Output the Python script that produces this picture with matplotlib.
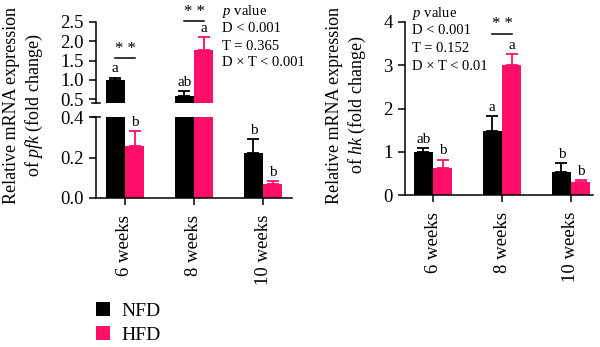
import numpy as np
import matplotlib
matplotlib.use('Agg')
import matplotlib.pyplot as plt
from matplotlib.patches import Patch
import matplotlib.transforms as mtransforms

plt.rcParams['font.family'] = ['Liberation Serif', 'DejaVu Serif']
plt.rcParams['mathtext.fontset'] = 'custom'
plt.rcParams['mathtext.rm'] = 'Liberation Serif'
plt.rcParams['mathtext.it'] = 'Liberation Serif:italic'

weeks = ['6 weeks', '8 weeks', '10 weeks']
groups = ['NFD', 'HFD']
colors = ['#000000', '#FF0F68']

# pfk (left, broken axis)
pfk_nfd = [1.0, 0.59, 0.223]
pfk_nfd_err = [0.06, 0.13, 0.066]
pfk_hfd = [0.258, 1.78, 0.069]
pfk_hfd_err = [0.073, 0.34, 0.016]
pfk_nfd_letters = ['a', 'ab', 'b']
pfk_hfd_letters = ['b', 'a', 'b']
pfk_stats = ['$p$ value', 'D < 0.001', 'T = 0.365', 'D × T < 0.001']

# hk (right)
hk_nfd = [1.0, 1.48, 0.54]
hk_nfd_err = [0.08, 0.35, 0.19]
hk_hfd = [0.62, 3.0, 0.29]
hk_hfd_err = [0.2, 0.25, 0.06]
hk_nfd_letters = ['ab', 'a', 'b']
hk_hfd_letters = ['b', 'a', 'b']
hk_stats = ['$p$ value', 'D < 0.001', 'T = 0.152', 'D × T < 0.01']

W = 600
H = 347
fig = plt.figure(figsize=(6, 3.47), dpi=100)

x = np.arange(len(weeks))
bw = 0.28


def px(l, t, r, b):
    return [l / W, 1 - b / H, (r - l) / W, (b - t) / H]


def draw_bars(ax, nfd, nfd_err, hfd, hfd_err):
    for vals, errs, off, c in [(nfd, nfd_err, -bw / 2, colors[0]),
                               (hfd, hfd_err, bw / 2, colors[1])]:
        ax.bar(x + off, vals, bw, color=c, edgecolor='none')
        ax.errorbar(x + off, vals, yerr=[np.zeros(len(vals)), errs], fmt='none',
                    ecolor=c, elinewidth=1.3, capsize=4.5, capthick=1.3)


def letters(ax, vals, errs, labs, off):
    for xi, v, e, lab in zip(x, vals, errs, labs):
        ax.annotate(lab, (xi + off, v + e), xytext=(0, 1.5), textcoords='offset points',
                    ha='center', va='bottom', fontsize=11, annotation_clip=False)


def style(ax):
    for s in ['top', 'right']:
        ax.spines[s].set_visible(False)
    for s in ['left', 'bottom']:
        ax.spines[s].set_linewidth(1.1)
    ax.tick_params(width=1.1, length=5, labelsize=13.5, pad=4)


def sig(ax, i, y, dy):
    ax.plot([x[i] - bw / 2, x[i] + bw / 2], [y, y], color='black', lw=1.1, clip_on=False)
    ax.text(x[i], y + dy, '* *', ha='center', va='bottom', fontsize=12, clip_on=False)


# ---- left: pfk with broken axis ----
ax_top = fig.add_axes(px(96, 22, 292, 103))
ax_bot = fig.add_axes(px(96, 117, 292, 198))
for ax in (ax_top, ax_bot):
    draw_bars(ax, pfk_nfd, pfk_nfd_err, pfk_hfd, pfk_hfd_err)
    ax.set_xlim(-0.42, 2.42)
    style(ax)

ax_top.set_ylim(0.4, 2.5)
ax_top.set_yticks([0.5, 1.0, 1.5, 2.0, 2.5])
ax_top.yaxis.set_major_formatter(plt.FormatStrFormatter('%.1f'))
ax_top.spines['bottom'].set_visible(False)
ax_top.set_xticks([])

ax_bot.set_ylim(0, 0.4)
ax_bot.set_yticks([0.0, 0.2, 0.4])
ax_bot.yaxis.set_major_formatter(plt.FormatStrFormatter('%.1f'))
ax_bot.set_xticks(x)
ax_bot.set_xticklabels(weeks, rotation=90)
ax_bot.tick_params(axis='x', pad=7)

# break marks
for ax, yv in [(ax_top, 0.4), (ax_bot, 0.4)]:
    tr = mtransforms.blended_transform_factory(ax.transAxes, ax.transData)
    ax.plot([-0.02, 0.02], [yv, yv], color='black', lw=1.1, transform=tr, clip_on=False)

letters(ax_top, pfk_nfd[:2], pfk_nfd_err[:2], pfk_nfd_letters[:2], -bw / 2)
letters(ax_top, pfk_hfd[1:2], pfk_hfd_err[1:2], pfk_hfd_letters[1:2], bw / 2 + 1)
letters(ax_bot, pfk_hfd[:1], pfk_hfd_err[:1], pfk_hfd_letters[:1], bw / 2)
letters(ax_bot, pfk_nfd[2:], pfk_nfd_err[2:], pfk_nfd_letters[2:], -bw / 2 + 2)
letters(ax_bot, pfk_hfd[2:], pfk_hfd_err[2:], pfk_hfd_letters[2:], bw / 2 + 2)

sig(ax_top, 0, 1.57, 0.03)
sig(ax_top, 1, 2.53, 0.03)

fig.text(24 / W, 1 - 105 / H, 'Relative mRNA expression\nof $pfk$ (fold change)',
         rotation=90, ha='center', va='center', fontsize=13, linespacing=1.2)
for i, s in enumerate(pfk_stats):
    fig.text(222 / W, 1 - (12 + 17 * i) / H, s, ha='left', va='center', fontsize=10.5)

# ---- right: hk ----
ax_r = fig.add_axes(px(405, 22, 593, 195))
draw_bars(ax_r, hk_nfd, hk_nfd_err, hk_hfd, hk_hfd_err)
ax_r.set_xlim(-0.406, 2.319)
ax_r.set_ylim(0, 4)
ax_r.set_yticks([0, 1, 2, 3, 4])
ax_r.set_xticks(x)
ax_r.set_xticklabels(weeks, rotation=90)
style(ax_r)
ax_r.tick_params(axis='x', pad=7)
letters(ax_r, hk_nfd, hk_nfd_err, hk_nfd_letters, -bw / 2)
letters(ax_r, hk_hfd, hk_hfd_err, hk_hfd_letters, bw / 2)
sig(ax_r, 1, 3.72, 0.05)

fig.text(347 / W, 1 - 105 / H, 'Relative mRNA expression\nof $hk$ (fold change)',
         rotation=90, ha='center', va='center', fontsize=13, linespacing=1.2)
for i, s in enumerate(hk_stats):
    fig.text(412 / W, 1 - (13 + 18 * i) / H, s, ha='left', va='center', fontsize=10.5)

handles = [Patch(facecolor=c, edgecolor='none') for c in colors]
fig.legend(handles, groups, loc='upper left', bbox_to_anchor=(96 / W, 1 - 302 / H),
           frameon=False, fontsize=14, handlelength=0.7, handleheight=0.7,
           handletextpad=0.6, labelspacing=0.35, borderpad=0, borderaxespad=0)

fig.savefig('out.png', dpi=100)
